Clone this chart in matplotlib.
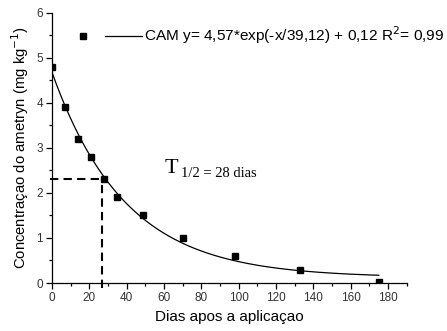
import numpy as np
import matplotlib
matplotlib.use("Agg")
import matplotlib.pyplot as plt
from matplotlib.legend_handler import HandlerTuple

plt.rcParams['font.family'] = ['Liberation Sans', 'DejaVu Sans']

# Data
dias = [0, 7, 14, 21, 28, 35, 49, 70, 98, 133, 175]
conc = [4.8, 3.9, 3.2, 2.8, 2.3, 1.9, 1.5, 1.0, 0.6, 0.3, 0.02]
# Fit parameters (from legend)
fit_a, fit_t, fit_c = 4.57, 39.12, 0.12
fit_range = [0, 175]
half_life_x = 27
half_life_y = 2.3
xticks = list(range(0, 181, 20))
yticks = list(range(0, 7))

fig = plt.figure(figsize=(4.47, 3.31), dpi=100)
ax = fig.add_axes([0.116, 0.145, 0.794, 0.816])

xf = np.linspace(fit_range[0], fit_range[1], 300)
yf = fit_a * np.exp(-xf / fit_t) + fit_c
ln, = ax.plot(xf, yf, color='black', lw=0.9)
sq, = ax.plot(dias, conc, 's', color='black', ms=4.6, ls='none')

ax.plot([-1.2, half_life_x], [half_life_y, half_life_y], color='black', lw=1.5,
        dashes=(4, 2.5), clip_on=False)
ax.plot([half_life_x, half_life_x], [-0.11, half_life_y], color='black', lw=1.5,
        dashes=(4, 2.5), clip_on=False)

ax.text(60.3, 2.44, 'T', fontsize=16, family='Liberation Serif', ha='left', va='baseline')
ax.text(69.0, 2.35, '1/2 = 28 dias', fontsize=10.5, family='Liberation Serif', ha='left', va='baseline')

ax.set_xlim(0, 190)
ax.set_ylim(0, 6)
ax.set_xticks(xticks)
ax.set_yticks(yticks)
ax.set_xticks(np.arange(10, 191, 20), minor=True)
ax.set_yticks(np.arange(0.5, 6, 1), minor=True)
for s in ['top', 'right']:
    ax.spines[s].set_visible(False)
for s in ['left', 'bottom']:
    ax.spines[s].set_linewidth(0.9)
ax.tick_params(which='major', direction='out', length=4, width=0.9, labelsize=8.5,
               labelcolor='#333333', pad=2.5)
ax.tick_params(which='minor', direction='out', length=2.5, width=0.9)

ax.set_xlabel('Dias apos a aplicaçao', fontsize=11, labelpad=4)
ax.set_ylabel('Concentraçao do ametryn (mg kg$^{-1}$)', fontsize=10.7, labelpad=4)

leg = ax.legend([(sq, ln)], ['CAM y= 4,57*exp(-x/39,12) + 0,12 R$^{2}$= 0,99'],
                handler_map={tuple: HandlerTuple(ndivide=None, pad=0.2)},
                loc='center left', bbox_to_anchor=(0.0366, 0.917), frameon=False,
                fontsize=11.1, handlelength=5.0, handletextpad=0.13, borderaxespad=0,
                borderpad=0, markerscale=0.85)

fig.savefig('out.png', dpi=100)
